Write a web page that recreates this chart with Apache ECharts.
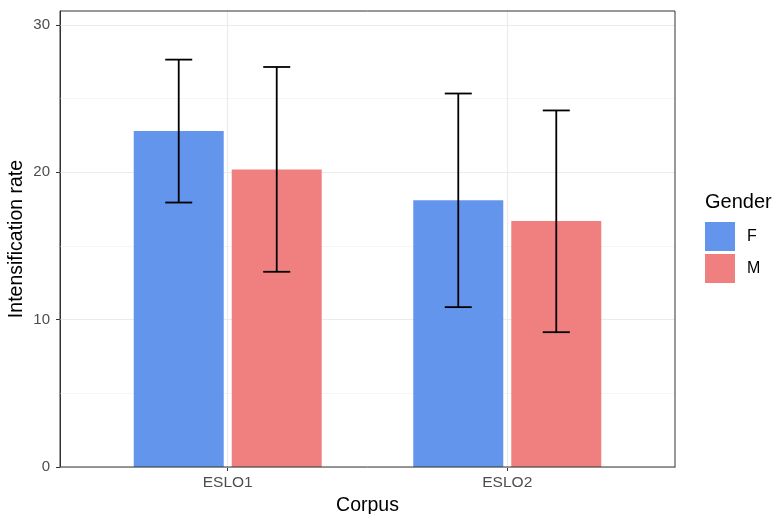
<!DOCTYPE html>
<html>
<head>
<meta charset="utf-8">
<script src="https://cdn.jsdelivr.net/npm/echarts@6/dist/echarts.min.js"></script>
<style>html,body{margin:0;padding:0;background:#fff}#c{width:774px;height:514px}</style>
</head>
<body>
<div id="c"></div>
<script>
const categories = ['ESLO1', 'ESLO2'];
const groups = ['F', 'M'];
const meanF = [22.8, 18.1];
const meanM = [20.2, 16.7];
const lowF = [17.95, 10.85];
const highF = [27.65, 25.35];
const lowM = [13.25, 9.15];
const highM = [27.15, 24.2];
const yTicks = [0, 10, 20, 30];
const yMinor = [5, 15, 25];

const colF = '#6495ED', colM = '#F08080';
const barW = 90, barGapPx = 8, capW = 27;
const FONT = 'Liberation Sans';

const chart = echarts.init(document.getElementById('c'));
const xs = categories.map((c, i) => i + 1);

function errSeries(name, lows, highs, dir) {
  return {
    type: 'custom', name: name + '_err', z: 20,
    data: xs.map((x, i) => [x, lows[i], highs[i]]),
    renderItem: function (params, api) {
      const off = dir * (barW + barGapPx) / 2;
      const lo = api.coord([api.value(0), api.value(1)]);
      const hi = api.coord([api.value(0), api.value(2)]);
      const x = lo[0] + off;
      const st = { stroke: '#000', lineWidth: 1.8 };
      return {
        type: 'group', children: [
          { type: 'line', shape: { x1: x, y1: lo[1], x2: x, y2: hi[1] }, style: st },
          { type: 'line', shape: { x1: x - capW / 2, y1: lo[1], x2: x + capW / 2, y2: lo[1] }, style: st },
          { type: 'line', shape: { x1: x - capW / 2, y1: hi[1], x2: x + capW / 2, y2: hi[1] }, style: st }
        ]
      };
    }
  };
}

const gridLines = [];
yTicks.forEach(v => gridLines.push({ yAxis: v, lineStyle: { color: '#ebebeb', width: 1.2, type: 'solid' } }));
yMinor.forEach(v => gridLines.push({ yAxis: v, lineStyle: { color: '#f2f2f2', width: 0.8, type: 'solid' } }));
xs.forEach(v => gridLines.push({ xAxis: v, lineStyle: { color: '#ebebeb', width: 1.2, type: 'solid' } }));

chart.setOption({
  animation: false,
  backgroundColor: '#fff',
  textStyle: { fontFamily: FONT },
  grid: { left: 60, right: 99, top: 11, bottom: 47, outerBoundsMode: 'none', containLabel: false, show: true, borderColor: '#333', borderWidth: 1, backgroundColor: 'transparent', z: 30 },
  title: { text: 'Gender', left: 705, top: 192, padding: 0, textStyle: { fontFamily: FONT, fontSize: 20, fontWeight: 'normal', color: '#000' } },
  legend: {
    data: groups, orient: 'vertical', left: 705, top: 222, padding: 0, itemWidth: 30, itemHeight: 29, itemGap: 3,
    icon: 'rect', textStyle: { fontFamily: FONT, fontSize: 16, color: '#000', padding: [0, 0, 0, 7] }
  },
  xAxis: {
    type: 'value', min: 0.4, max: 2.6,
    name: 'Corpus', nameLocation: 'middle', nameGap: 29,
    nameTextStyle: { fontFamily: FONT, fontSize: 19.5, color: '#000' },
    axisLine: { show: true, onZero: false, lineStyle: { color: '#333', width: 1 } },
    axisTick: { show: true, length: 4, customValues: xs, lineStyle: { color: '#333' } },
    axisLabel: { customValues: xs, formatter: v => categories[Math.round(v) - 1], fontFamily: FONT, fontSize: 15.5, color: '#4d4d4d', margin: 8 },
    splitLine: { show: false }
  },
  yAxis: {
    type: 'value', min: 0, max: 30.95,
    name: 'Intensification rate', nameLocation: 'middle', nameGap: 33, nameRotate: 90, nameMoveOverlap: false,
    nameTextStyle: { fontFamily: FONT, fontSize: 19.5, color: '#000' },
    axisLine: { show: true, lineStyle: { color: '#333', width: 1 } },
    axisTick: { show: true, length: 4, customValues: yTicks, lineStyle: { color: '#333' } },
    axisLabel: { customValues: yTicks, fontFamily: FONT, fontSize: 15, color: '#4d4d4d', margin: 10 },
    splitLine: { show: false }
  },
  series: [
    {
      type: 'line', name: 'grid', data: [], z: 1, silent: true,
      markLine: { silent: true, symbol: 'none', label: { show: false }, data: gridLines, animation: false }
    },
    { type: 'bar', name: 'F', z: 10, data: xs.map((x, i) => [x, meanF[i]]), barWidth: barW, barGap: (barGapPx / barW * 100) + '%', itemStyle: { color: colF } },
    { type: 'bar', name: 'M', z: 10, data: xs.map((x, i) => [x, meanM[i]]), barWidth: barW, barGap: (barGapPx / barW * 100) + '%', itemStyle: { color: colM } },
    errSeries('F', lowF, highF, -1),
    errSeries('M', lowM, highM, 1)
  ]
});
</script>
</body>
</html>
